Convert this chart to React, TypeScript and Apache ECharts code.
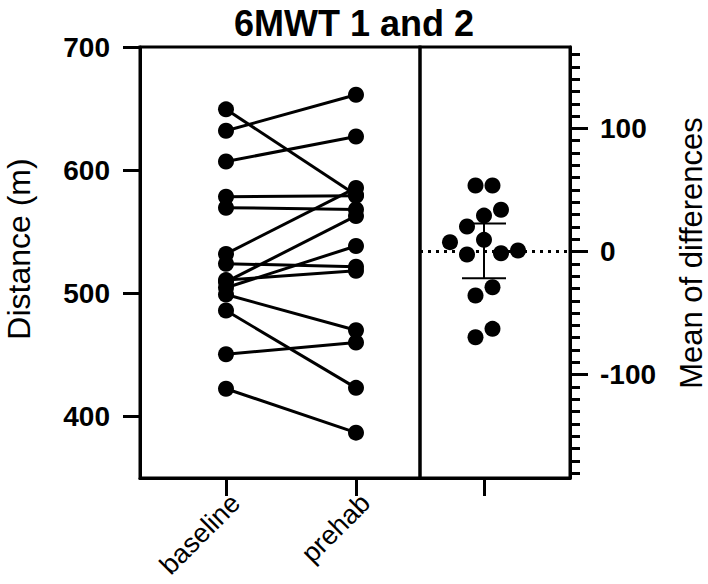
import React, { useEffect, useRef } from "react";
import * as echarts from "echarts";

// ---- data ----
const categories = ["baseline", "prehab"];
const baseline = [649.4, 632.0, 607.0, 450.5, 532.0, 524.0, 509.2, 569.5, 504.5, 510.7, 578.4, 422.5, 499.0, 486.0];
const prehab = [579.8, 661.2, 627.3, 460.0, 585.6, 521.6, 562.8, 568.1, 538.4, 518.3, 579.2, 386.8, 470.0, 423.2];
const leftTicks = [400, 500, 600, 700];
const rightTicks = [-100, 0, 100];
const titleText = "6MWT 1 and 2";
const leftAxisName = "Distance (m)";
const rightAxisName = "Mean of differences";

// ---- layout / style ----
const FONT = "'Liberation Sans', Arial, Helvetica, sans-serif";
const GRID_TOP = 47;
const GRID_H = 431;
const LEFT_X = 140;
const LEFT_W = 280;
const RIGHT_W = 150;
const Y_MIN = 350;
const Y_MAX = 700;
const DOT = 16;
const SLOT_PX = 17;
const ROW_PX = 18;

function mean(a: number[]) {
  return a.reduce((s, v) => s + v, 0) / a.length;
}

function t975(df: number) {
  const z = 1.959964;
  const z3 = z * z * z;
  const z5 = z3 * z * z;
  const z7 = z5 * z * z;
  return (
    z +
    (z3 + z) / (4 * df) +
    (5 * z5 + 16 * z3 + 3 * z) / (96 * df * df) +
    (3 * z7 + 19 * z5 + 17 * z3 - 15 * z) / (384 * df * df * df)
  );
}

export default function App() {
  const ref = useRef<HTMLDivElement>(null);

  useEffect(() => {
    const chart = echarts.init(ref.current!, null, { renderer: "svg" });
    const n = baseline.length;
    const diffs = prehab.map((p, i) => p - baseline[i]);
    const bMean = mean(baseline);
    const dMean = mean(diffs);
    const sd = Math.sqrt(diffs.reduce((s, v) => s + (v - dMean) * (v - dMean), 0) / (n - 1));
    const ci = (t975(n - 1) * sd) / Math.sqrt(n);
    const pxPerUnit = GRID_H / (Y_MAX - Y_MIN);

    // swarm layout: rows of nearby values, centre-out slots in data order
    const order = diffs.map((_, i) => i).sort((a, b) => diffs[b] - diffs[a]);
    const slots = new Array(n).fill(0);
    let k = 0;
    while (k < order.length) {
      const top = diffs[order[k]];
      const row: number[] = [];
      while (k < order.length && (top - diffs[order[k]]) * pxPerUnit < ROW_PX) {
        row.push(order[k]);
        k++;
      }
      row.sort((a, b) => a - b);
      const m = row.length;
      row.forEach((idx, j) => {
        let s: number;
        if (m % 2 === 1) {
          s = j === 0 ? 0 : j % 2 === 1 ? -Math.ceil(j / 2) : Math.ceil(j / 2);
        } else {
          const r = Math.floor(j / 2) + 0.5;
          s = j % 2 === 0 ? -r : r;
        }
        slots[idx] = s;
      });
    }

    const rMin = Y_MIN - bMean;
    const rMax = Y_MAX - bMean;
    const minorTicks: number[] = [];
    for (let v = Math.ceil(rMin / 10) * 10; v <= rMax; v += 10) minorTicks.push(v);

    const black = "#000";
    const pairSeries = baseline.map((b, i) => ({
      type: "line",
      xAxisIndex: 0,
      yAxisIndex: 0,
      data: [
        [0, b],
        [1, prehab[i]],
      ],
      symbol: "circle",
      symbolSize: DOT,
      itemStyle: { color: black, opacity: 1 },
      lineStyle: { color: black, width: 3 },
      z: 2,
      silent: true,
    }));

    const capHalf = 22;
    const axisLine = { show: true, onZero: false, lineStyle: { color: black, width: 3 } };

    chart.setOption({
      animation: false,
      backgroundColor: "#fff",
      title: {
        text: titleText,
        left: "center",
        top: 0,
        textStyle: { fontFamily: FONT, fontSize: 36, fontWeight: "bold", color: black },
      },
      grid: [
        {
          left: LEFT_X,
          top: GRID_TOP,
          width: LEFT_W,
          height: GRID_H,
          show: true,
          borderColor: black,
          borderWidth: 3,
          backgroundColor: "transparent",
          containLabel: false,
          outerBoundsMode: "none",
        },
        {
          left: LEFT_X + LEFT_W,
          top: GRID_TOP,
          width: RIGHT_W,
          height: GRID_H,
          show: true,
          borderColor: black,
          borderWidth: 3,
          backgroundColor: "transparent",
          containLabel: false,
          outerBoundsMode: "none",
        },
      ],
      xAxis: [
        {
          type: "value",
          gridIndex: 0,
          min: -86 / 130,
          max: 1 + 64 / 130,
          splitLine: { show: false },
          axisLine,
          axisTick: { show: true, length: 18, lineStyle: { color: black, width: 3 }, customValues: [0, 1] },
          axisLabel: {
            customValues: [0, 1],
            formatter: (v: number) => categories[Math.round(v)],
            rotate: 45,
            align: "right",
            verticalAlign: "top",
            margin: 11,
            fontFamily: FONT,
            fontSize: 27,
            color: black,
          },
        },
        {
          type: "value",
          gridIndex: 1,
          min: -64 / SLOT_PX,
          max: 86 / SLOT_PX,
          splitLine: { show: false },
          axisLine,
          axisTick: { show: true, length: 18, lineStyle: { color: black, width: 3 }, customValues: [0] },
          axisLabel: { show: false },
        },
      ],
      yAxis: [
        {
          type: "value",
          gridIndex: 0,
          min: Y_MIN,
          max: Y_MAX,
          position: "left",
          splitLine: { show: false },
          axisLine,
          axisTick: { show: true, length: 17, lineStyle: { color: black, width: 3 }, customValues: leftTicks },
          axisLabel: {
            customValues: leftTicks,
            margin: 30,
            fontFamily: FONT,
            fontSize: 28,
            fontWeight: "bold",
            color: black,
          },
        },
        {
          type: "value",
          gridIndex: 1,
          min: rMin,
          max: rMax,
          position: "right",
          splitLine: { show: false },
          axisLine,
          axisTick: { show: true, length: 18, lineStyle: { color: black, width: 3 }, customValues: rightTicks },
          axisLabel: {
            customValues: rightTicks,
            margin: 30,
            fontFamily: FONT,
            fontSize: 28,
            fontWeight: "bold",
            color: black,
          },
        },
        {
          type: "value",
          gridIndex: 1,
          min: rMin,
          max: rMax,
          position: "right",
          splitLine: { show: false },
          axisLine: { show: false, onZero: false },
          axisTick: { show: true, length: 10, lineStyle: { color: black, width: 3 }, customValues: minorTicks },
          axisLabel: { show: false },
        },
      ],
      graphic: [
        {
          type: "text",
          x: 19,
          y: 249,
          rotation: Math.PI / 2,
          style: {
            text: leftAxisName,
            fontFamily: FONT,
            fontSize: 32,
            lineHeight: 30,
            fill: black,
            textAlign: "center",
            textVerticalAlign: "middle",
          },
        },
        {
          type: "text",
          x: 691,
          y: 253,
          rotation: Math.PI / 2,
          style: {
            text: rightAxisName,
            fontFamily: FONT,
            fontSize: 31,
            lineHeight: 28,
            fill: black,
            textAlign: "center",
            textVerticalAlign: "middle",
          },
        },
      ],
      series: [
        ...pairSeries,
        {
          type: "custom",
          xAxisIndex: 1,
          yAxisIndex: 1,
          z: 1,
          silent: true,
          data: [[0, dMean - ci, dMean + ci]],
          renderItem: (_params: any, api: any) => {
            const top = api.coord([api.value(0), api.value(2)]);
            const bot = api.coord([api.value(0), api.value(1)]);
            const st = { stroke: black, lineWidth: 2 };
            return {
              type: "group",
              children: [
                { type: "line", shape: { x1: top[0], y1: top[1], x2: bot[0], y2: bot[1] }, style: st },
                { type: "line", shape: { x1: top[0] - capHalf, y1: top[1], x2: top[0] + capHalf, y2: top[1] }, style: st },
                { type: "line", shape: { x1: bot[0] - capHalf, y1: bot[1], x2: bot[0] + capHalf, y2: bot[1] }, style: st },
              ],
            };
          },
          markLine: {
            silent: true,
            symbol: "none",
            label: { show: false },
            lineStyle: { color: black, type: [3, 5], width: 3, opacity: 1 },
            data: [{ yAxis: 0 }],
          },
        },
        {
          type: "scatter",
          xAxisIndex: 1,
          yAxisIndex: 1,
          z: 3,
          silent: true,
          symbol: "circle",
          symbolSize: DOT,
          itemStyle: { color: black, opacity: 1 },
          data: diffs.map((d, i) => [slots[i], d]),
        },
      ],
    });

    return () => {
      chart.dispose();
    };
  }, []);

  return (
    <div
      ref={ref}
      style={{ position: "absolute", left: 0, top: 0, width: 708, height: 584, background: "#fff" }}
    />
  );
}
